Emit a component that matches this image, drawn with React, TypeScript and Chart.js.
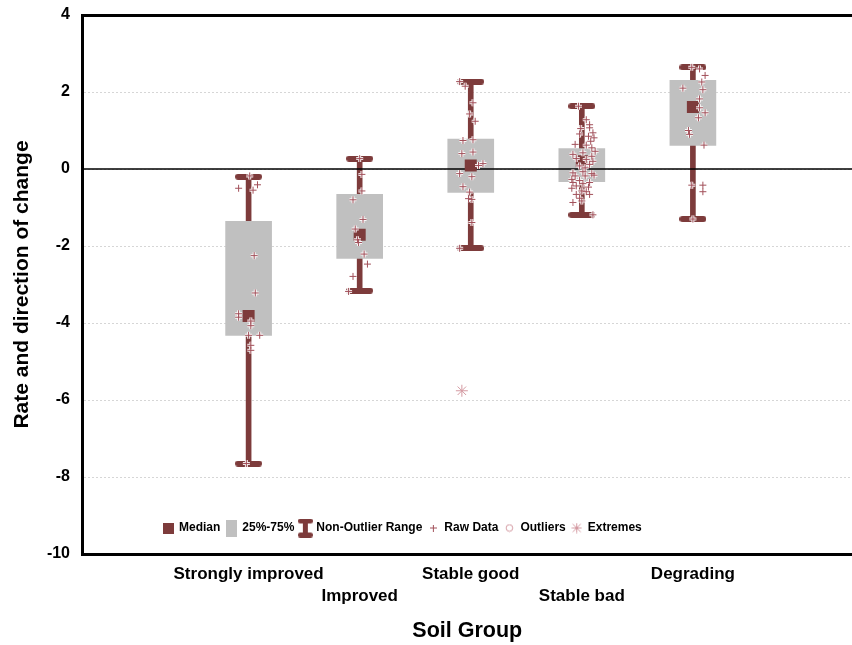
import React, { useEffect, useRef } from 'react';
import { Chart, registerables } from 'chart.js';

Chart.register(...registerables);

// ---------------- data ----------------
const categories = ['Strongly improved', 'Improved', 'Stable good', 'Stable bad', 'Degrading'];
const medians = [-3.82, -1.71, 0.09, 0.2, 1.61];
const q1 = [-4.32, -2.32, -0.61, -0.33, 0.61];
const q3 = [-1.36, -0.66, 0.78, 0.53, 2.3];
const whiskerMin = [-7.65, -3.16, -2.06, -1.19, -1.3];
const whiskerMax = [-0.2, 0.27, 2.27, 1.63, 2.64];
const yTickValues = [4, 2, 0, -2, -4, -6, -8, -10];

// raw data: [jitter (category units), value]
const rawStronglyImproved: [number, number][] = [
  [0.01, -0.18], [-0.09, -0.5], [0.04, -0.55], [0.08, -0.41], [0.05, -2.25], [0.06, -3.22],
  [-0.09, -3.76], [-0.09, -3.85], [0.02, -3.95], [0.02, -4.07], [0, -4.32], [0.1, -4.32],
  [0.02, -4.58], [0.02, -4.71], [-0.02, -7.65],
];
const rawImproved: [number, number][] = [
  [0, 0.27], [0.02, -0.14], [0.02, -0.57], [-0.06, -0.8], [0.03, -1.31], [-0.04, -1.56],
  [-0.01, -1.91], [-0.02, -1.84], [0.04, -2.21], [0.07, -2.47], [-0.06, -2.79], [-0.1, -3.18],
];
const rawStableGood: [number, number][] = [
  [-0.1, 2.27], [-0.05, 2.15], [0.02, 1.72], [-0.01, 1.43], [0.04, 1.24], [-0.07, 0.74],
  [0.02, 0.76], [-0.08, 0.4], [0.02, 0.44], [0.07, 0.09], [0.11, 0.14], [-0.1, -0.12],
  [0.01, -0.2], [-0.07, -0.46], [-0.01, -0.6], [-0.02, -0.77], [0.01, -0.79], [0.01, -1.39],
  [-0.1, -2.06],
];
const rawStableBad: [number, number][] = [
  [-0.03, 1.63], [0.04, 1.28], [0.07, 1.15], [-0.01, 1.05], [0.07, 1.07], [0.1, 0.94],
  [-0.02, 0.91], [0.06, 0.85], [0.11, 0.81], [0.08, 0.72], [-0.06, 0.64], [0.04, 0.62],
  [0.09, 0.55], [0.12, 0.46], [-0.08, 0.38], [0.01, 0.42], [0.09, 0.33], [-0.05, 0.27],
  [0.04, 0.25], [0.1, 0.2], [0.07, 0.12], [-0.02, 0.08], [0.03, 0.03], [-0.08, -0.1],
  [0.01, -0.07], [0.09, -0.12], [-0.06, -0.18], [0.03, -0.18], [0.11, -0.16], [-0.09, -0.27],
  [-0.02, -0.3], [-0.08, -0.35], [0.01, -0.38], [0.07, -0.35], [-0.05, -0.44], [0.06, -0.47],
  [-0.09, -0.5], [0, -0.57], [0.04, -0.59], [-0.05, -0.66], [0.07, -0.66], [-0.02, -0.76],
  [-0.08, -0.87], [0, -0.83], [0.1, -1.19],
];
const rawDegrading: [number, number][] = [
  [-0.01, 2.64], [0.06, 2.6], [0.11, 2.43], [0.08, 2.26], [-0.09, 2.1], [0.09, 2.06],
  [0.06, 1.82], [0.06, 1.59], [0.11, 1.46], [0.05, 1.33], [-0.04, 1.0], [-0.03, 0.9],
  [0.1, 0.62], [-0.01, -0.42], [0.09, -0.42], [0.09, -0.59], [0, -1.3],
];
const rawGroups = [rawStronglyImproved, rawImproved, rawStableGood, rawStableBad, rawDegrading];
// extremes: [category index, jitter, value]
const extremes: [number, number, number][] = [[2, -0.08, -5.76]];

const legendLabels = ['Median', '25%-75%', 'Non-Outlier Range', 'Raw Data', 'Outliers', 'Extremes'];

// ---------------- styles ----------------
const DARK = '#7d3b3b';
const GREY = '#c0c0c0';
const RAW = '#a2505a';
const PINK = '#d49aa2';
const FONT = "'Liberation Sans', Arial, sans-serif";
const X_MIN = -0.5;
const X_MAX = 6.437;

function makeCanvas(w: number, h: number, draw: (c: CanvasRenderingContext2D) => void) {
  const cv = document.createElement('canvas');
  cv.width = w;
  cv.height = h;
  const c = cv.getContext('2d')!;
  draw(c);
  return cv;
}

function roundRect(c: CanvasRenderingContext2D, x: number, y: number, w: number, h: number, r: number) {
  c.beginPath();
  c.moveTo(x + r, y);
  c.lineTo(x + w - r, y);
  c.arc(x + w - r, y + r, r, -Math.PI / 2, Math.PI / 2);
  c.lineTo(x + r, y + h);
  c.arc(x + r, y + r, r, Math.PI / 2, (3 * Math.PI) / 2);
  c.closePath();
  c.fill();
}

export default function App() {
  const ref = useRef<HTMLCanvasElement | null>(null);

  useEffect(() => {
    if (!ref.current) return;
    Chart.defaults.font.family = FONT;
    Chart.defaults.color = '#000';

    const capImg = makeCanvas(27, 6, (c) => {
      c.fillStyle = DARK;
      roundRect(c, 0, 0, 27, 6, 3);
    });

    const iconMedian = makeCanvas(11, 11, (c) => {
      c.fillStyle = DARK;
      c.fillRect(0, 0, 11, 11);
    });
    const iconBox = makeCanvas(11, 17, (c) => {
      c.fillStyle = GREY;
      c.fillRect(0, 0, 11, 17);
    });
    const iconRange = makeCanvas(15, 19, (c) => {
      c.fillStyle = DARK;
      roundRect(c, 0, 0, 15, 5, 2.5);
      roundRect(c, 0, 14, 15, 5, 2.5);
      c.fillRect(5, 2, 5, 15);
    });
    const iconRaw = makeCanvas(7, 7, (c) => {
      c.strokeStyle = RAW;
      c.lineWidth = 1;
      c.beginPath();
      c.moveTo(3.5, 0);
      c.lineTo(3.5, 7);
      c.moveTo(0, 3.5);
      c.lineTo(7, 3.5);
      c.stroke();
    });
    const iconOutlier = makeCanvas(9, 9, (c) => {
      c.strokeStyle = PINK;
      c.lineWidth = 1;
      c.beginPath();
      c.arc(4.5, 4.5, 3.3, 0, Math.PI * 2);
      c.stroke();
    });
    const iconExtreme = makeCanvas(11, 11, (c) => {
      c.strokeStyle = PINK;
      c.lineWidth = 1;
      c.beginPath();
      c.moveTo(5.5, 0.5); c.lineTo(5.5, 10.5);
      c.moveTo(0.5, 5.5); c.lineTo(10.5, 5.5);
      c.moveTo(1.5, 1.5); c.lineTo(9.5, 9.5);
      c.moveTo(9.5, 1.5); c.lineTo(1.5, 9.5);
      c.stroke();
    });
    const icons = [iconMedian, iconBox, iconRange, iconRaw, iconOutlier, iconExtreme];

    const xs = categories.map((_, i) => i + 1);
    const rawPoints = rawGroups.flatMap((g, i) => g.map(([j, v]) => ({ x: xs[i] + j, y: v })));
    const extremePoints = extremes.map(([ci, j, v]) => ({ x: xs[ci] + j, y: v }));

    const legendPlacer = {
      id: 'legendPlacer',
      afterInit(chart: any) {
        const lg = chart.legend;
        if (!lg) return;
        const origFit = lg.fit.bind(lg);
        lg.fit = function () {
          origFit();
          this.height = 0;
        };
      },
      afterUpdate(chart: any) {
        const lg = chart.legend;
        if (!lg) return;
        lg.left = 157;
        lg.right = 852;
        lg.width = 695;
        lg.top = 516;
        lg.bottom = 546;
        lg.height = 30;
        lg.adjustHitBoxes();
      },
    };

    const zeroPad = (s: any) => {
      s.paddingLeft = 0;
      s.paddingRight = 0;
      s.paddingTop = 0;
      s.paddingBottom = 0;
    };

    const chart = new Chart(ref.current, {
      type: 'scatter',
      data: {
        datasets: [
          {
            type: 'bar',
            label: 'Non-Outlier Range',
            data: xs.map((x, i) => ({ x, y: [whiskerMin[i], whiskerMax[i]] })) as any,
            backgroundColor: DARK,
            borderWidth: 0,
            barThickness: 5,
            grouped: false,
            order: 10,
          } as any,
          {
            type: 'bar',
            label: '25%-75%',
            data: xs.map((x, i) => ({ x, y: [q1[i], q3[i]] })) as any,
            backgroundColor: GREY,
            borderWidth: 0,
            barThickness: 46,
            grouped: false,
            order: 9,
          } as any,
          {
            type: 'line',
            label: 'zero',
            data: [{ x: X_MIN, y: 0 }, { x: X_MAX, y: 0 }],
            borderColor: '#000',
            borderWidth: 1.5,
            pointRadius: 0,
            order: 8,
          },
          {
            type: 'scatter',
            label: 'capMax',
            data: xs.map((x, i) => ({ x, y: whiskerMax[i] })),
            pointStyle: capImg as any,
            pointRadius: 5,
            order: 7,
          },
          {
            type: 'scatter',
            label: 'capMin',
            data: xs.map((x, i) => ({ x, y: whiskerMin[i] })),
            pointStyle: capImg as any,
            pointRadius: 5,
            order: 7,
          },
          {
            type: 'scatter',
            label: 'Median',
            data: xs.map((x, i) => ({ x, y: medians[i] })),
            pointStyle: 'rect',
            pointRadius: 8.5,
            backgroundColor: DARK,
            borderColor: DARK,
            borderWidth: 0,
            order: 6,
          },
          {
            type: 'scatter',
            label: 'rawHalo',
            data: rawPoints,
            pointStyle: 'cross',
            pointRadius: 3.5,
            borderColor: 'rgba(255,255,255,0.9)',
            borderWidth: 3,
            order: 5,
          },
          {
            type: 'scatter',
            label: 'Raw Data',
            data: rawPoints,
            pointStyle: 'cross',
            pointRadius: 3.5,
            borderColor: RAW,
            borderWidth: 1,
            order: 4,
          },
          {
            type: 'scatter',
            label: 'Extremes',
            data: extremePoints,
            pointStyle: 'star',
            pointRadius: 6,
            borderColor: PINK,
            borderWidth: 1,
            order: 3,
          },
        ],
      },
      options: {
        animation: false,
        responsive: true,
        maintainAspectRatio: false,
        layout: { padding: { top: 0, left: 0, right: 0, bottom: 0 } },
        plugins: {
          tooltip: { enabled: false },
          legend: {
            position: 'bottom',
            align: 'start',
            onClick: () => {},
            labels: {
              usePointStyle: true,
              boxWidth: 10,
              boxHeight: 10,
              padding: 6,
              color: '#000',
              font: { family: FONT, size: 12, weight: 'bold' },
              generateLabels: () =>
                legendLabels.map((text, i) => ({
                  text,
                  pointStyle: icons[i] as any,
                  fillStyle: 'rgba(0,0,0,0)',
                  strokeStyle: 'rgba(0,0,0,0)',
                  lineWidth: 0,
                  hidden: false,
                  fontColor: '#000',
                  datasetIndex: i,
                })),
            },
          },
        },
        scales: {
          x: {
            type: 'linear',
            position: 'bottom',
            offset: false,
            min: X_MIN,
            max: X_MAX,
            afterBuildTicks: (s: any) => {
              s.ticks = [0, 1, 2, 3, 4, 5, 6].map((v) => ({ value: v }));
            },
            afterFit: (s: any) => {
              s.height = 91;
              zeroPad(s);
            },
            grid: { display: false, drawTicks: false, offset: false },
            border: { display: true, color: '#000', width: 3 },
            ticks: {
              autoSkip: false,
              maxRotation: 0,
              minRotation: 0,
              padding: 10,
              color: '#000',
              font: { family: FONT, size: 17, weight: 'bold', lineHeight: 1.25 },
              callback: (v: any) => {
                const i = Number(v) - 1;
                if (i < 0 || i >= categories.length) return '';
                return i % 2 === 1 ? ['', categories[i]] : categories[i];
              },
            },
            title: {
              display: true,
              text: 'Soil Group',
              color: '#000',
              font: { family: FONT, size: 21.5, weight: 'bold' },
              padding: { top: 0, bottom: 1 },
            },
          },
          x2: {
            type: 'linear',
            position: 'top',
            offset: false,
            min: X_MIN,
            max: X_MAX,
            afterBuildTicks: (s: any) => {
              s.ticks = [0, 1, 2, 3, 4, 5, 6].map((v) => ({ value: v }));
            },
            afterFit: (s: any) => {
              s.height = 15;
              zeroPad(s);
            },
            grid: { display: false, drawTicks: false, offset: false },
            border: { display: true, color: '#000', width: 3 },
            ticks: { display: false },
          },
          y: {
            type: 'linear',
            min: -10,
            max: 4,
            afterBuildTicks: (s: any) => {
              s.ticks = yTickValues.map((v) => ({ value: v }));
            },
            afterFit: (s: any) => {
              s.width = 82;
              zeroPad(s);
            },
            grid: {
              drawTicks: false,
              color: (ctx: any) => (ctx.tick && (ctx.tick.value === 4 || ctx.tick.value === -10) ? 'rgba(0,0,0,0)' : '#d6d6d6'),
              lineWidth: 1,
            },
            border: { display: true, color: '#000', width: 3, dash: [2, 2] },
            ticks: {
              padding: 12,
              color: '#000',
              font: { family: FONT, size: 16, weight: 'bold' },
            },
            title: {
              display: true,
              text: 'Rate and direction of change',
              color: '#000',
              font: { family: FONT, size: 21, weight: 'bold' },
              padding: { top: 9.5, bottom: 0 },
            },
          },
        },
      } as any,
      plugins: [legendPlacer],
    });

    return () => chart.destroy();
  }, []);

  return (
    <div style={{ position: 'absolute', left: 0, top: 0, width: 852, height: 645, overflow: 'hidden' }}>
      <div style={{ position: 'absolute', left: 0, top: 0, width: 861, height: 645 }}>
        <canvas ref={ref} />
      </div>
    </div>
  );
}
